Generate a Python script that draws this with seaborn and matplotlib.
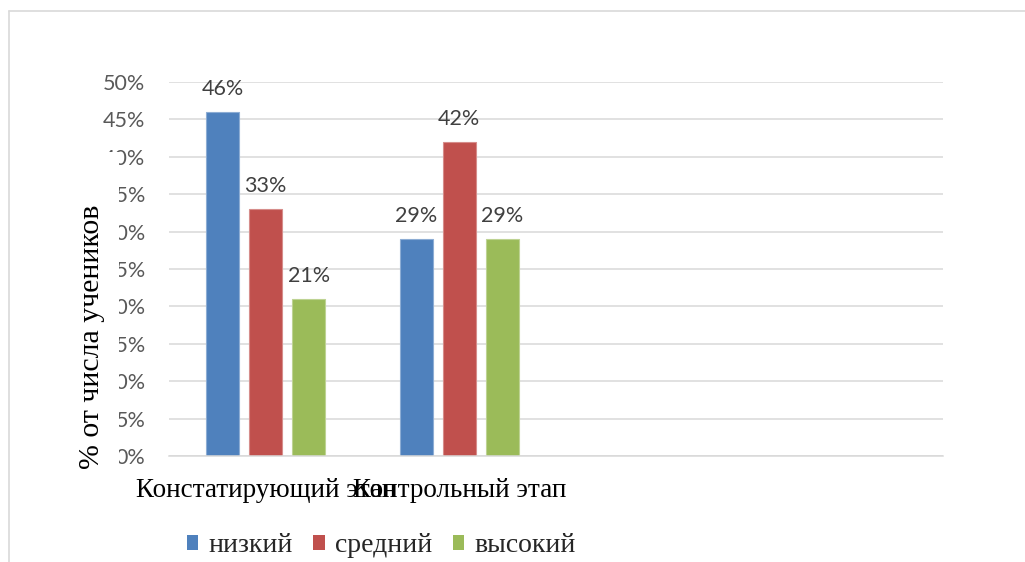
import numpy as np
import pandas as pd
import matplotlib
matplotlib.use("Agg")
import matplotlib.pyplot as plt
import matplotlib.colors as mcolors
from matplotlib.patches import Patch, Rectangle
from matplotlib.lines import Line2D
from matplotlib.ticker import FuncFormatter
import seaborn as sns

# --- data -------------------------------------------------------------
stages = ["Констатирующий этап", "Контрольный этап"]
levels = ["низкий", "средний", "высокий"]
low_share = [0.46, 0.29]
mid_share = [0.33, 0.42]
high_share = [0.21, 0.29]
y_ticks = [0.00, 0.05, 0.10, 0.15, 0.20, 0.25, 0.30, 0.35, 0.40, 0.45, 0.50]
y_label = "% от числа учеников"
level_colors = ["#4F81BD", "#C0504D", "#9BBB59"]

df = pd.DataFrame({
    "stage": stages * 3,
    "level": [levels[0]] * 2 + [levels[1]] * 2 + [levels[2]] * 2,
    "share": low_share + mid_share + high_share,
})

# --- style --------------------------------------------------------------
sns.set_style("white")
plt.rcParams["font.family"] = ["Lato", "DejaVu Sans"]
SERIF = ["Liberation Serif", "DejaVu Serif"]
SANS = ["Lato", "DejaVu Sans"]
GRID = "#D9D9D9"

W, H = 1025, 562
fig = plt.figure(figsize=(W / 100, H / 100), dpi=100)
fig.patch.set_facecolor("white")


def fx(px):
    return px / W


def fy(py):
    return 1 - py / H


# plot area
left, right, top, bottom = 169, 943, 82, 456
ax = fig.add_axes([fx(left), fy(bottom), (right - left) / W, (bottom - top) / H])

sns.barplot(
    data=df, x="stage", y="share", hue="level",
    order=stages, hue_order=levels, palette=level_colors,
    saturation=1, width=0.667, gap=0.226, errorbar=None,
    legend=False, ax=ax,
)

# soft lighter outline on each bar
for p in ax.patches:
    fc = np.array(mcolors.to_rgb(p.get_facecolor()))
    p.set_edgecolor(tuple(fc + (1 - fc) * 0.35))
    p.set_linewidth(0.8)

# room for four category slots, only the first two are filled
ax.set_xlim(-0.5, 3.5)
ax.set_ylim(0, 0.5)
ax.set_yticks(y_ticks)
ax.yaxis.set_major_formatter(FuncFormatter(lambda v, _: f"{v * 100:.0f}%"))

ax.set_xlabel("")
ax.set_ylabel("")
ax.yaxis.grid(True, color=GRID, linewidth=1.1)
ax.set_axisbelow(True)
for side in ["left", "right", "top"]:
    ax.spines[side].set_visible(False)
ax.spines["bottom"].set_color(GRID)
ax.spines["bottom"].set_linewidth(1.1)

ax.tick_params(axis="y", length=0, pad=17, labelsize=15.5, labelcolor="#595959")
ax.tick_params(axis="x", length=0, pad=16, labelsize=19.5, labelcolor="black")
for t in ax.get_yticklabels():
    t.set_family(SANS)
for t in ax.get_xticklabels():
    t.set_family(SERIF)

# value labels above bars
for cont in ax.containers:
    ax.bar_label(cont, fmt=lambda v: f"{v * 100:.0f}%", padding=9.5,
                 fontsize=15.5, color="#404040", family=SANS)

# axis title on a white box
fig.add_artist(Rectangle((fx(68), fy(478)), 51 / W, 326 / H,
                         transform=fig.transFigure, facecolor="white",
                         edgecolor="none", zorder=1))
fig.text(fx(92), fy(337), y_label, rotation=90, ha="center", va="center",
         family=SERIF, fontsize=21.5, color="black", zorder=2)

# legend
handles = [Patch(facecolor=c, edgecolor="none") for c in level_colors]
fig.legend(handles, levels, loc="center", bbox_to_anchor=(fx(381), fy(546)),
           ncol=3, frameon=False, prop={"family": SERIF, "size": 20},
           handlelength=0.42, handleheight=0.42, handletextpad=0.35,
           columnspacing=0.75, borderpad=0, borderaxespad=0)

# chart frame
fig.add_artist(Line2D([fx(9), fx(9)], [fy(11), 0], transform=fig.transFigure,
                      color=GRID, linewidth=1.2))
fig.add_artist(Line2D([fx(9), 1], [fy(11), fy(11)], transform=fig.transFigure,
                      color=GRID, linewidth=1.2))

fig.savefig("out.png", dpi=100, facecolor="white")
